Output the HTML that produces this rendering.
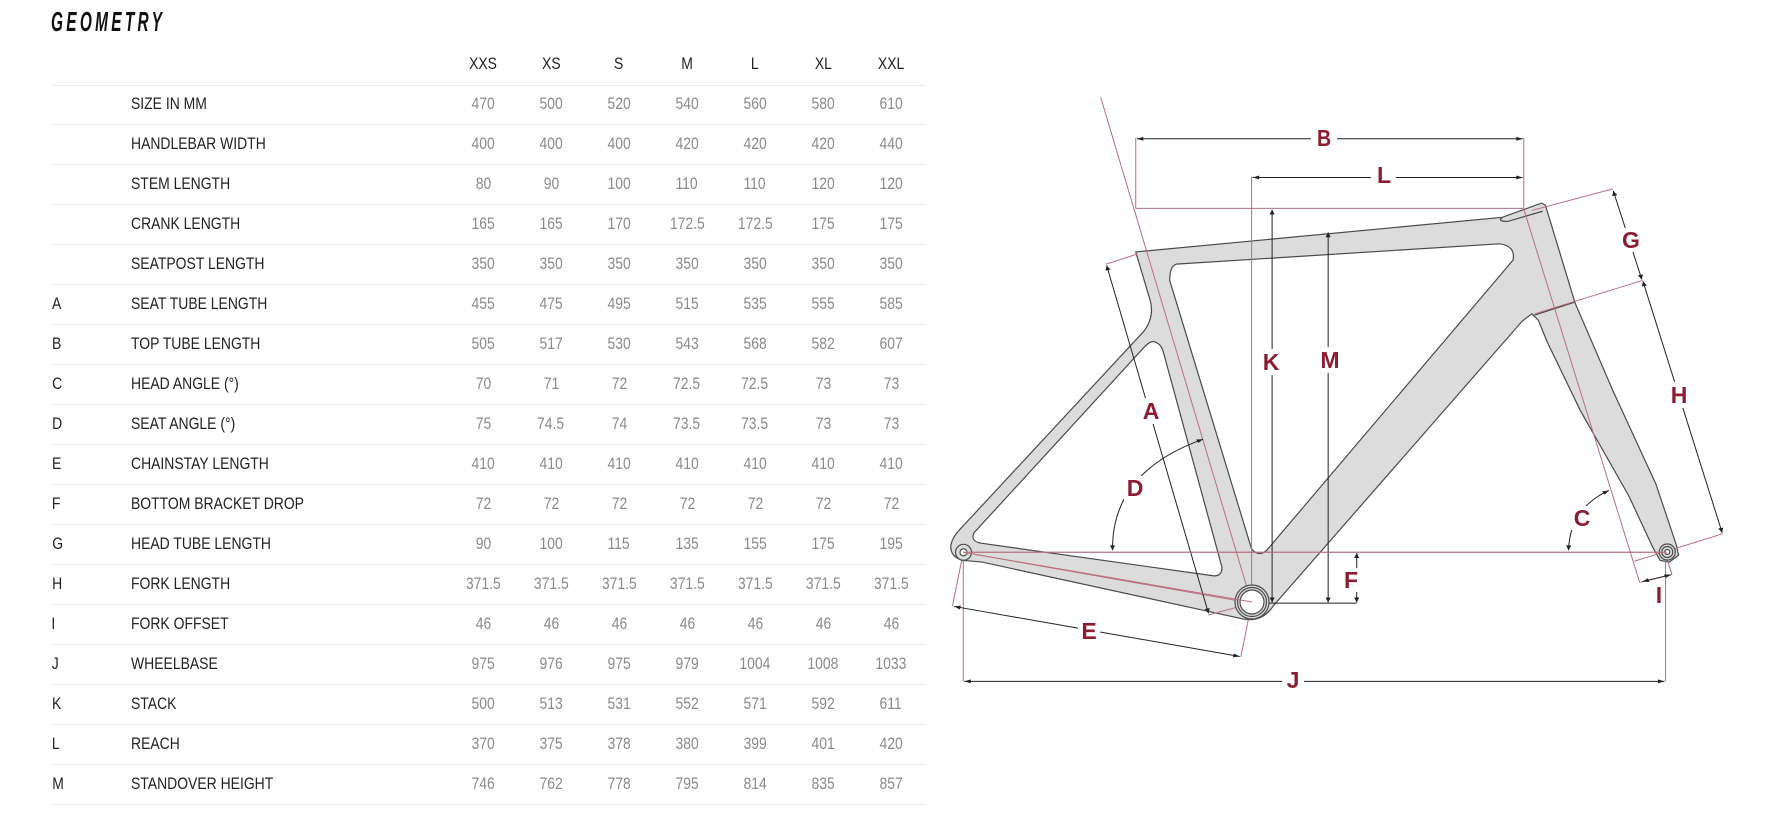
<!DOCTYPE html>
<html><head><meta charset="utf-8">
<style>
html,body{margin:0;padding:0;background:#fff;}
body{width:1786px;height:824px;position:relative;overflow:hidden;font-family:"Liberation Sans",sans-serif;}
.t{position:absolute;left:51px;top:6px;font-size:28px;font-weight:bold;font-style:italic;letter-spacing:6px;transform:scaleX(0.55);transform-origin:left top;color:#111;}
.row{position:absolute;left:51px;width:875px;height:40px;}
.line{position:absolute;left:51px;width:875px;height:1px;background:#ececec;}
.c{position:absolute;top:0;height:40px;line-height:40px;font-size:17px;white-space:nowrap;}
.c span{display:inline-block;transform:scaleX(0.82);}
.ltr{left:0;color:#222;}
.lbl{left:80px;color:#222;}
.lbl span{transform-origin:left center;}
.n{width:68px;margin-left:-34px;text-align:center;color:#8a8a8a;}
.h{color:#222;}
</style></head><body>
<div class="t">GEOMETRY</div>

<div class="row" style="top:44px">
<div class="c n h" style="left:432px"><span>XXS</span></div><div class="c n h" style="left:500px"><span>XS</span></div><div class="c n h" style="left:568px"><span>S</span></div><div class="c n h" style="left:636px"><span>M</span></div><div class="c n h" style="left:704px"><span>L</span></div><div class="c n h" style="left:772px"><span>XL</span></div><div class="c n h" style="left:840px"><span>XXL</span></div>
</div>
<div class="line" style="top:85px"></div>

<div class="row" style="top:84px"><div class="c ltr"><span></span></div><div class="c lbl"><span>SIZE IN MM</span></div><div class="c n" style="left:432px"><span>470</span></div><div class="c n" style="left:500px"><span>500</span></div><div class="c n" style="left:568px"><span>520</span></div><div class="c n" style="left:636px"><span>540</span></div><div class="c n" style="left:704px"><span>560</span></div><div class="c n" style="left:772px"><span>580</span></div><div class="c n" style="left:840px"><span>610</span></div></div>
<div class="line" style="top:124px"></div>
<div class="row" style="top:124px"><div class="c lbl"><span>HANDLEBAR WIDTH</span></div><div class="c n" style="left:432px"><span>400</span></div><div class="c n" style="left:500px"><span>400</span></div><div class="c n" style="left:568px"><span>400</span></div><div class="c n" style="left:636px"><span>420</span></div><div class="c n" style="left:704px"><span>420</span></div><div class="c n" style="left:772px"><span>420</span></div><div class="c n" style="left:840px"><span>440</span></div></div>
<div class="line" style="top:164px"></div>
<div class="row" style="top:164px"><div class="c lbl"><span>STEM LENGTH</span></div><div class="c n" style="left:432px"><span>80</span></div><div class="c n" style="left:500px"><span>90</span></div><div class="c n" style="left:568px"><span>100</span></div><div class="c n" style="left:636px"><span>110</span></div><div class="c n" style="left:704px"><span>110</span></div><div class="c n" style="left:772px"><span>120</span></div><div class="c n" style="left:840px"><span>120</span></div></div>
<div class="line" style="top:204px"></div>
<div class="row" style="top:204px"><div class="c lbl"><span>CRANK LENGTH</span></div><div class="c n" style="left:432px"><span>165</span></div><div class="c n" style="left:500px"><span>165</span></div><div class="c n" style="left:568px"><span>170</span></div><div class="c n" style="left:636px"><span>172.5</span></div><div class="c n" style="left:704px"><span>172.5</span></div><div class="c n" style="left:772px"><span>175</span></div><div class="c n" style="left:840px"><span>175</span></div></div>
<div class="line" style="top:244px"></div>
<div class="row" style="top:244px"><div class="c lbl"><span>SEATPOST LENGTH</span></div><div class="c n" style="left:432px"><span>350</span></div><div class="c n" style="left:500px"><span>350</span></div><div class="c n" style="left:568px"><span>350</span></div><div class="c n" style="left:636px"><span>350</span></div><div class="c n" style="left:704px"><span>350</span></div><div class="c n" style="left:772px"><span>350</span></div><div class="c n" style="left:840px"><span>350</span></div></div>
<div class="line" style="top:284px"></div>
<div class="row" style="top:284px"><div class="c ltr"><span>A</span></div><div class="c lbl"><span>SEAT TUBE LENGTH</span></div><div class="c n" style="left:432px"><span>455</span></div><div class="c n" style="left:500px"><span>475</span></div><div class="c n" style="left:568px"><span>495</span></div><div class="c n" style="left:636px"><span>515</span></div><div class="c n" style="left:704px"><span>535</span></div><div class="c n" style="left:772px"><span>555</span></div><div class="c n" style="left:840px"><span>585</span></div></div>
<div class="line" style="top:324px"></div>
<div class="row" style="top:324px"><div class="c ltr"><span>B</span></div><div class="c lbl"><span>TOP TUBE LENGTH</span></div><div class="c n" style="left:432px"><span>505</span></div><div class="c n" style="left:500px"><span>517</span></div><div class="c n" style="left:568px"><span>530</span></div><div class="c n" style="left:636px"><span>543</span></div><div class="c n" style="left:704px"><span>568</span></div><div class="c n" style="left:772px"><span>582</span></div><div class="c n" style="left:840px"><span>607</span></div></div>
<div class="line" style="top:364px"></div>
<div class="row" style="top:364px"><div class="c ltr"><span>C</span></div><div class="c lbl"><span>HEAD ANGLE (°)</span></div><div class="c n" style="left:432px"><span>70</span></div><div class="c n" style="left:500px"><span>71</span></div><div class="c n" style="left:568px"><span>72</span></div><div class="c n" style="left:636px"><span>72.5</span></div><div class="c n" style="left:704px"><span>72.5</span></div><div class="c n" style="left:772px"><span>73</span></div><div class="c n" style="left:840px"><span>73</span></div></div>
<div class="line" style="top:404px"></div>
<div class="row" style="top:404px"><div class="c ltr"><span>D</span></div><div class="c lbl"><span>SEAT ANGLE (°)</span></div><div class="c n" style="left:432px"><span>75</span></div><div class="c n" style="left:500px"><span>74.5</span></div><div class="c n" style="left:568px"><span>74</span></div><div class="c n" style="left:636px"><span>73.5</span></div><div class="c n" style="left:704px"><span>73.5</span></div><div class="c n" style="left:772px"><span>73</span></div><div class="c n" style="left:840px"><span>73</span></div></div>
<div class="line" style="top:444px"></div>
<div class="row" style="top:444px"><div class="c ltr"><span>E</span></div><div class="c lbl"><span>CHAINSTAY LENGTH</span></div><div class="c n" style="left:432px"><span>410</span></div><div class="c n" style="left:500px"><span>410</span></div><div class="c n" style="left:568px"><span>410</span></div><div class="c n" style="left:636px"><span>410</span></div><div class="c n" style="left:704px"><span>410</span></div><div class="c n" style="left:772px"><span>410</span></div><div class="c n" style="left:840px"><span>410</span></div></div>
<div class="line" style="top:484px"></div>
<div class="row" style="top:484px"><div class="c ltr"><span>F</span></div><div class="c lbl"><span>BOTTOM BRACKET DROP</span></div><div class="c n" style="left:432px"><span>72</span></div><div class="c n" style="left:500px"><span>72</span></div><div class="c n" style="left:568px"><span>72</span></div><div class="c n" style="left:636px"><span>72</span></div><div class="c n" style="left:704px"><span>72</span></div><div class="c n" style="left:772px"><span>72</span></div><div class="c n" style="left:840px"><span>72</span></div></div>
<div class="line" style="top:524px"></div>
<div class="row" style="top:524px"><div class="c ltr"><span>G</span></div><div class="c lbl"><span>HEAD TUBE LENGTH</span></div><div class="c n" style="left:432px"><span>90</span></div><div class="c n" style="left:500px"><span>100</span></div><div class="c n" style="left:568px"><span>115</span></div><div class="c n" style="left:636px"><span>135</span></div><div class="c n" style="left:704px"><span>155</span></div><div class="c n" style="left:772px"><span>175</span></div><div class="c n" style="left:840px"><span>195</span></div></div>
<div class="line" style="top:564px"></div>
<div class="row" style="top:564px"><div class="c ltr"><span>H</span></div><div class="c lbl"><span>FORK LENGTH</span></div><div class="c n" style="left:432px"><span>371.5</span></div><div class="c n" style="left:500px"><span>371.5</span></div><div class="c n" style="left:568px"><span>371.5</span></div><div class="c n" style="left:636px"><span>371.5</span></div><div class="c n" style="left:704px"><span>371.5</span></div><div class="c n" style="left:772px"><span>371.5</span></div><div class="c n" style="left:840px"><span>371.5</span></div></div>
<div class="line" style="top:604px"></div>
<div class="row" style="top:604px"><div class="c ltr"><span>I</span></div><div class="c lbl"><span>FORK OFFSET</span></div><div class="c n" style="left:432px"><span>46</span></div><div class="c n" style="left:500px"><span>46</span></div><div class="c n" style="left:568px"><span>46</span></div><div class="c n" style="left:636px"><span>46</span></div><div class="c n" style="left:704px"><span>46</span></div><div class="c n" style="left:772px"><span>46</span></div><div class="c n" style="left:840px"><span>46</span></div></div>
<div class="line" style="top:644px"></div>
<div class="row" style="top:644px"><div class="c ltr"><span>J</span></div><div class="c lbl"><span>WHEELBASE</span></div><div class="c n" style="left:432px"><span>975</span></div><div class="c n" style="left:500px"><span>976</span></div><div class="c n" style="left:568px"><span>975</span></div><div class="c n" style="left:636px"><span>979</span></div><div class="c n" style="left:704px"><span>1004</span></div><div class="c n" style="left:772px"><span>1008</span></div><div class="c n" style="left:840px"><span>1033</span></div></div>
<div class="line" style="top:684px"></div>
<div class="row" style="top:684px"><div class="c ltr"><span>K</span></div><div class="c lbl"><span>STACK</span></div><div class="c n" style="left:432px"><span>500</span></div><div class="c n" style="left:500px"><span>513</span></div><div class="c n" style="left:568px"><span>531</span></div><div class="c n" style="left:636px"><span>552</span></div><div class="c n" style="left:704px"><span>571</span></div><div class="c n" style="left:772px"><span>592</span></div><div class="c n" style="left:840px"><span>611</span></div></div>
<div class="line" style="top:724px"></div>
<div class="row" style="top:724px"><div class="c ltr"><span>L</span></div><div class="c lbl"><span>REACH</span></div><div class="c n" style="left:432px"><span>370</span></div><div class="c n" style="left:500px"><span>375</span></div><div class="c n" style="left:568px"><span>378</span></div><div class="c n" style="left:636px"><span>380</span></div><div class="c n" style="left:704px"><span>399</span></div><div class="c n" style="left:772px"><span>401</span></div><div class="c n" style="left:840px"><span>420</span></div></div>
<div class="line" style="top:764px"></div>
<div class="row" style="top:764px"><div class="c ltr"><span>M</span></div><div class="c lbl"><span>STANDOVER HEIGHT</span></div><div class="c n" style="left:432px"><span>746</span></div><div class="c n" style="left:500px"><span>762</span></div><div class="c n" style="left:568px"><span>778</span></div><div class="c n" style="left:636px"><span>795</span></div><div class="c n" style="left:704px"><span>814</span></div><div class="c n" style="left:772px"><span>835</span></div><div class="c n" style="left:840px"><span>857</span></div></div>
<div class="line" style="top:804px"></div>

<svg width="1786" height="824" style="position:absolute;left:0;top:0" xmlns="http://www.w3.org/2000/svg">
<defs>
<marker id="ar" viewBox="0 0 10 10" refX="10" refY="5" markerWidth="16" markerHeight="12" markerUnits="userSpaceOnUse" orient="auto-start-reverse">
<path d="M0,1 L10,5 L0,9 z" fill="#222"/>
</marker>
</defs>
<g transform="translate(939,81) scale(0.539,0.407)">
<g fill="#dcdcdc" stroke="#4a4a4a" stroke-width="1.2" vector-effect="non-scaling-stroke" fill-rule="evenodd">
<path vector-effect="non-scaling-stroke" d="M365,420 L1045,335 L1118,300 L1125,305 L1180,545 L1250,760 L1330,990 L1368,1140 L1372,1165 L1355,1182 L1338,1178 L1325,1148 L1280,1020 L1190,810 L1128,640 L1112,588 L1100,572 L1082,590 L620,1290 Q600,1330 565,1322 L80,1182 L45,1178 Q20,1170 22,1140 Q25,1120 40,1100 L380,615 Q400,580 392,540 Z
M440,450 L1040,400 Q1070,405 1065,440 L610,1150 Q595,1172 580,1150 L428,490 Q428,455 440,450 Z
M398,640 Q412,645 416,665 L525,1195 Q525,1220 505,1215 L75,1135 Q58,1128 65,1110 L380,655 Q390,640 398,640 Z"/>
<path vector-effect="non-scaling-stroke" fill="none" d="M1045,335 Q1035,345 1055,345 L1120,320"/>
<path vector-effect="non-scaling-stroke" fill="none" d="M1105,575 L1180,543"/>
</g>
<g stroke="#b8707c" stroke-width="1" fill="none">
<path vector-effect="non-scaling-stroke" d="M300,40 L580,1283 M45,1158 L580,1283 M45,1158 L1348,1158 M365,313 L1085,313 M365,140 L365,313 M1085,140 L1085,313 M580,235 L580,1283 M1085,315 L1300,1232 M1100,318 L1250,265 M1105,572 L1305,490 M1290,1180 L1455,1112 M310,450 L368,425 M500,1312 L580,1283 M45,1158 L25,1290 M580,1283 L560,1415 M45,1158 L45,1475 M1348,1158 L1348,1475 M1348,1165 L1360,1213 M1300,1232 L1360,1213"/>
</g>
<g stroke="#222" stroke-width="1" fill="none">
<path vector-effect="non-scaling-stroke" d="M580,1283 L775,1283"/>
<path vector-effect="non-scaling-stroke" marker-start="url(#ar)" marker-end="url(#ar)" d="M367,142 L1083,142"/>
<path vector-effect="non-scaling-stroke" marker-start="url(#ar)" marker-end="url(#ar)" d="M582,237 L1083,237"/>
<path vector-effect="non-scaling-stroke" marker-start="url(#ar)" marker-end="url(#ar)" d="M618,316 L618,1281"/>
<path vector-effect="non-scaling-stroke" marker-start="url(#ar)" marker-end="url(#ar)" d="M722,372 L722,1281"/>
<path vector-effect="non-scaling-stroke" marker-start="url(#ar)" marker-end="url(#ar)" d="M311,453 L500,1308"/>
<path vector-effect="non-scaling-stroke" marker-start="url(#ar)" marker-end="url(#ar)" d="M322,1153 Q320,960 490,880"/>
<path vector-effect="non-scaling-stroke" marker-start="url(#ar)" marker-end="url(#ar)" d="M1168,1153 Q1170,1050 1243,1006"/>
<path vector-effect="non-scaling-stroke" marker-start="url(#ar)" marker-end="url(#ar)" d="M775,1160 L775,1281"/>
<path vector-effect="non-scaling-stroke" marker-start="url(#ar)" marker-end="url(#ar)" d="M1251,270 L1304,488"/>
<path vector-effect="non-scaling-stroke" marker-start="url(#ar)" marker-end="url(#ar)" d="M1306,492 L1453,1110"/>
<path vector-effect="non-scaling-stroke" marker-start="url(#ar)" marker-end="url(#ar)" d="M1305,1230 L1358,1213"/>
<path vector-effect="non-scaling-stroke" marker-start="url(#ar)" marker-end="url(#ar)" d="M28,1291 L558,1414"/>
<path vector-effect="non-scaling-stroke" marker-start="url(#ar)" marker-end="url(#ar)" d="M47,1475 L1346,1475"/>
</g>
</g>
<!-- round parts -->
<g fill="#dcdcdc" stroke="#4a4a4a" stroke-width="1.2">
<circle cx="963.5" cy="552.3" r="8"/>
<circle cx="963.5" cy="552.3" r="3.5" fill="#fff"/>
<circle cx="1252" cy="602" r="17"/>
<circle cx="1252" cy="602" r="14.5" fill="#dcdcdc"/>
<circle cx="1252" cy="602" r="12" fill="#fff"/>
<circle cx="1667.3" cy="552" r="8"/>
<circle cx="1667.3" cy="552" r="5.5"/>
<circle cx="1667.3" cy="552" r="2.5" fill="#fff"/>
</g>
<g stroke="#b8707c" stroke-width="1">
<line x1="963" y1="552.3" x2="1667" y2="552.3"/>
<line x1="963" y1="552.3" x2="1252" y2="602"/>
</g>
<g font-family="'Liberation Sans',sans-serif" font-weight="bold" font-size="23" fill="#8c1c30" text-anchor="middle">
<g fill="#fff"><rect x="1311" y="126" width="26" height="24"/><rect x="1371" y="163" width="25" height="24"/><rect x="1259" y="349" width="23" height="26"/><rect x="1317" y="347" width="26" height="26"/><rect x="1140" y="398" width="22" height="26"/><rect x="1124" y="476" width="22" height="24"/><rect x="1571" y="506" width="22" height="24"/><rect x="1341" y="568" width="20" height="24"/><rect x="1620" y="228" width="22" height="24"/><rect x="1668" y="382" width="22" height="26"/><rect x="1078" y="619" width="22" height="24"/><rect x="1282" y="667" width="22" height="26"/></g>
<text x="1324" y="146" transform="translate(1324 0) scale(.85 1) translate(-1324 0)">B</text>
<text x="1384" y="183">L</text>
<text x="1271" y="370">K</text>
<text x="1330" y="368">M</text>
<text x="1151" y="419">A</text>
<text x="1135" y="496">D</text>
<text x="1582" y="526">C</text>
<text x="1351" y="588">F</text>
<text x="1631" y="248">G</text>
<text x="1679" y="403">H</text>
<text x="1659" y="603">I</text>
<text x="1089" y="639">E</text>
<text x="1293" y="688">J</text>
</g>
</svg>
</body></html>
